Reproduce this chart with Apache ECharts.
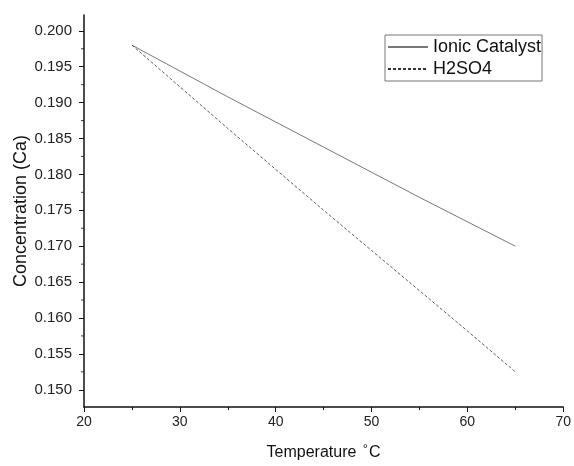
<!doctype html>
<html>
    <head>
        <meta charset="utf-8">
        <title>Concentration vs Temperature</title>
        <style>
            html, body { margin: 0; padding: 0; background: #fff; }
            #main { width: 574px; height: 466px; }
        </style>
    </head>
    <body>
        <div id="main"></div>
        <script src="https://cdn.jsdelivr.net/npm/echarts@6/dist/echarts.min.js"></script>
        <script>
            // values
            var temps = [25, 30, 35, 40, 45, 50, 55, 60, 65];
            var ionic = [0.1980, 0.1944, 0.1908, 0.1873, 0.1838, 0.1803, 0.1768, 0.1734, 0.1700];
            var h2so4 = [0.1980, 0.1922, 0.1864, 0.1807, 0.1750, 0.1694, 0.1638, 0.1582, 0.1525];
            var yTicks = [0.150, 0.155, 0.160, 0.165, 0.170, 0.175, 0.180, 0.185, 0.190, 0.195, 0.200];
            var yMinor = [0.1525, 0.1575, 0.1625, 0.1675, 0.1725, 0.1775, 0.1825, 0.1875, 0.1925, 0.1975];

            function pairs(xs, ys) {
                return xs.map(function (x, i) { return [x, ys[i]]; });
            }

            var font = 'Liberation Sans, Arial, sans-serif';
            var chart = echarts.init(document.getElementById('main'));

            chart.setOption({
                animation: false,
                backgroundColor: '#fff',
                grid: { left: 84, right: 8, top: 15, bottom: 59 },
                legend: {
                    orient: 'vertical',
                    left: 385,
                    top: 35,
                    itemWidth: 40,
                    itemHeight: 14,
                    itemGap: 4,
                    padding: [3, 1, 3, 2],
                    borderColor: '#777',
                    borderWidth: 1,
                    itemStyle: { opacity: 0 },
                    textStyle: { fontFamily: font, fontSize: 18, color: '#111' },
                    data: ['Ionic Catalyst', 'H2SO4']
                },
                xAxis: {
                    type: 'value',
                    min: 20,
                    max: 70,
                    interval: 10,
                    name: 'Temperature {s|°}C',
                    nameLocation: 'middle',
                    nameGap: 36,
                    nameTextStyle: {
                        fontFamily: font, fontSize: 16, color: '#111',
                        rich: { s: { fontSize: 13, verticalAlign: 'top', padding: [0, 1, 6, 2], fontFamily: font, color: '#111' } }
                    },
                    axisLine: { lineStyle: { color: '#111', width: 1.5 } },
                    axisTick: { inside: false, length: 5, lineStyle: { color: '#111' } },
                    minorTick: { show: true, splitNumber: 2, length: 3, lineStyle: { color: '#111' } },
                    axisLabel: { fontFamily: font, fontSize: 14, color: '#222', margin: 8 },
                    splitLine: { show: false }
                },
                yAxis: {
                    type: 'value',
                    min: 0.1476,
                    max: 0.2022,
                    name: 'Concentration (Ca)',
                    nameLocation: 'middle',
                    nameGap: 54,
                    nameMoveOverlap: false,
                    nameTextStyle: { fontFamily: font, fontSize: 18, color: '#111' },
                    axisLine: { show: true, lineStyle: { color: '#111', width: 1.5 } },
                    axisTick: { show: true, length: 5, customValues: yTicks, lineStyle: { color: '#111' } },
                    minorTick: { show: false },
                    axisLabel: {
                        fontFamily: font, fontSize: 15, color: '#222', margin: 12,
                        customValues: yTicks,
                        formatter: function (v) { return v.toFixed(3); }
                    },
                    splitLine: { show: false }
                },
                series: [{
                    name: 'Ionic Catalyst',
                    type: 'line',
                    symbol: 'none',
                    data: pairs(temps, ionic),
                    lineStyle: { color: '#777', width: 1 },
                    itemStyle: { color: '#777' }
                }, {
                    name: 'H2SO4',
                    type: 'line',
                    symbol: 'none',
                    data: pairs(temps, h2so4),
                    lineStyle: { color: '#333', width: 0.8, type: [3, 2] },
                    itemStyle: { color: '#333' }
                }, {
                    // minor ticks on the y axis
                    name: 'minor',
                    type: 'scatter',
                    silent: true,
                    symbol: 'rect',
                    symbolSize: [3, 1],
                    symbolOffset: [-1.5, 0],
                    itemStyle: { color: '#111' },
                    data: yMinor.map(function (v) { return [20, v]; }),
                    clip: false,
                    z: 1
                }]
            });
            window.addEventListener('resize', function () {
                chart.resize();
            });
        </script>
    </body>
</html>
